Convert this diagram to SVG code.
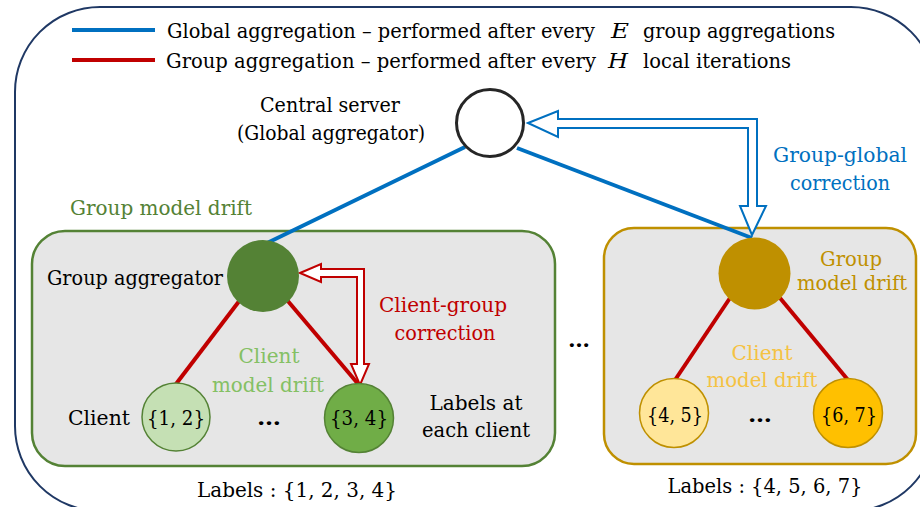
<svg xmlns="http://www.w3.org/2000/svg" width="920" height="507" viewBox="0 0 920 507">
<style>
text{font-family:'DejaVu Serif',serif;font-size:20.5px;fill:#000}
.lg{font-size:20px}
.mid{text-anchor:middle}
.blue{stroke:#0070c0;stroke-width:4;fill:none}
.red{stroke:#c00000;stroke-width:4;fill:none}
.tb{fill:#0070c0}
.tr{fill:#c00000}
.tg{fill:#548235}
.tlg{fill:#84c064}
.tgo{fill:#bf9000}
.tye{fill:#f5c243}
</style>
<rect x="15" y="7" width="921" height="504" rx="85" ry="85" fill="#fff" stroke="#1f3864" stroke-width="2"/>
<g id="legend">
<line x1="72" y1="30" x2="155" y2="30" class="blue" stroke-width="5"/>
<line x1="72" y1="60" x2="155" y2="60" class="red" stroke-width="5"/>
<text class="lg" x="167" y="38" textLength="428" lengthAdjust="spacingAndGlyphs">Global aggregation – performed after every</text>
<text x="611" y="38" font-style="italic" font-size="22" textLength="18" lengthAdjust="spacingAndGlyphs">E</text>
<text class="lg" x="643" y="38" textLength="192" lengthAdjust="spacingAndGlyphs">group aggregations</text>
<text class="lg" x="166" y="68" textLength="430" lengthAdjust="spacingAndGlyphs">Group aggregation – performed after every</text>
<text x="608" y="68" font-style="italic" font-size="22" textLength="20" lengthAdjust="spacingAndGlyphs">H</text>
<text class="lg" x="643" y="68" textLength="148" lengthAdjust="spacingAndGlyphs">local iterations</text>
</g>
<g id="group1-box">
<rect x="32" y="231" width="523" height="235" rx="33" ry="33" fill="#e6e6e6" stroke="#548235" stroke-width="2.5"/>
</g>
<g id="group2-box">
<rect x="604" y="228" width="312" height="236" rx="30" ry="30" fill="#e6e6e6" stroke="#bf9000" stroke-width="2.5"/>
</g>
<g id="connectors">
<polygon points="528,123 558,111 558,119 757,119 757,206 766,206 752,235 740,206 748,206 748,128 558,128 558,137" fill="#fff" stroke="#0070c0" stroke-width="2"/>
<polygon points="300,273 321,264 321,269 364,269 364,364 369,364 360,385 351,364 357,364 357,277 321,277 321,282" fill="#fff" stroke="#c00000" stroke-width="2"/>
<line x1="465" y1="147" x2="263" y2="245" class="blue"/>
<line x1="517" y1="148" x2="752" y2="238" class="blue"/>
<line x1="240" y1="300" x2="176" y2="384" class="red"/>
<line x1="287" y1="300" x2="359" y2="385" class="red"/>
<line x1="730" y1="298" x2="675" y2="380" class="red"/>
<line x1="780" y1="298" x2="848" y2="380" class="red"/>
</g>
<g id="central-server">
<circle cx="490" cy="123" r="33.5" fill="#fff" stroke="#262626" stroke-width="3"/>
<text class="mid" x="330" y="112" textLength="140" lengthAdjust="spacingAndGlyphs">Central server</text>
<text class="mid" x="331" y="140" textLength="188" lengthAdjust="spacingAndGlyphs">(Global aggregator)</text>
</g>
<g id="group-aggregator-1">
<circle cx="263" cy="276" r="36" fill="#548235"/>
<text x="47" y="285" textLength="176" lengthAdjust="spacingAndGlyphs">Group aggregator</text>
<text class="tg" x="70" y="215" textLength="182" lengthAdjust="spacingAndGlyphs">Group model drift</text>
</g>
<g id="group-aggregator-2">
<circle cx="754.5" cy="273.5" r="36" fill="#bf9000"/>
<text class="tgo mid" x="851" y="266" textLength="62" lengthAdjust="spacingAndGlyphs">Group</text>
<text class="tgo mid" x="852" y="290" textLength="110" lengthAdjust="spacingAndGlyphs">model drift</text>
</g>
<g id="client-12">
<circle cx="176" cy="417" r="34" fill="#c5e0b4" stroke="#548235" stroke-width="1.5"/>
<text class="mid" x="176" y="425" textLength="58" lengthAdjust="spacingAndGlyphs">{1, 2}</text>
<text x="68" y="425" textLength="62" lengthAdjust="spacingAndGlyphs">Client</text>
</g>
<g id="client-34">
<circle cx="359" cy="418" r="34.5" fill="#70ad47" stroke="#548235" stroke-width="1.5"/>
<text class="mid" x="359" y="425" textLength="58" lengthAdjust="spacingAndGlyphs">{3, 4}</text>
</g>
<g id="client-45">
<circle cx="674" cy="413" r="34.5" fill="#ffe699" stroke="#bf9000" stroke-width="1.5"/>
<text class="mid" x="675" y="422" textLength="56" lengthAdjust="spacingAndGlyphs">{4, 5}</text>
</g>
<g id="client-67">
<circle cx="848" cy="413" r="34.5" fill="#ffc000" stroke="#bf9000" stroke-width="1.5"/>
<text class="mid" x="849" y="422" textLength="56" lengthAdjust="spacingAndGlyphs">{6, 7}</text>
</g>
<g id="labels">
<text class="tb mid" x="840" y="162" textLength="134" lengthAdjust="spacingAndGlyphs">Group-global</text>
<text class="tb mid" x="840" y="190" textLength="100" lengthAdjust="spacingAndGlyphs">correction</text>
<text class="tr mid" x="443" y="312" textLength="128" lengthAdjust="spacingAndGlyphs">Client-group</text>
<text class="tr mid" x="445" y="340" textLength="101" lengthAdjust="spacingAndGlyphs">correction</text>
<text class="tlg mid" x="269" y="363" textLength="61" lengthAdjust="spacingAndGlyphs">Client</text>
<text class="tlg mid" x="268" y="392" textLength="112" lengthAdjust="spacingAndGlyphs">model drift</text>
<text class="tye mid" x="762" y="360" textLength="61" lengthAdjust="spacingAndGlyphs">Client</text>
<text class="tye mid" x="762" y="387" textLength="111" lengthAdjust="spacingAndGlyphs">model drift</text>
<text class="mid" x="269" y="425" font-weight="bold" textLength="24" lengthAdjust="spacingAndGlyphs">…</text>
<text class="mid" x="760" y="422" font-weight="bold" textLength="24" lengthAdjust="spacingAndGlyphs">…</text>
<text class="mid" x="579" y="347" font-weight="bold" textLength="22" lengthAdjust="spacingAndGlyphs">…</text>
<text class="mid" x="476" y="410" textLength="93" lengthAdjust="spacingAndGlyphs">Labels at</text>
<text class="mid" x="476" y="437" textLength="108" lengthAdjust="spacingAndGlyphs">each client</text>
<text class="mid" x="297" y="497" textLength="200" lengthAdjust="spacingAndGlyphs">Labels : {1, 2, 3, 4}</text>
<text class="mid" x="765" y="493" textLength="195" lengthAdjust="spacingAndGlyphs">Labels : {4, 5, 6, 7}</text>
</g>
</svg>
